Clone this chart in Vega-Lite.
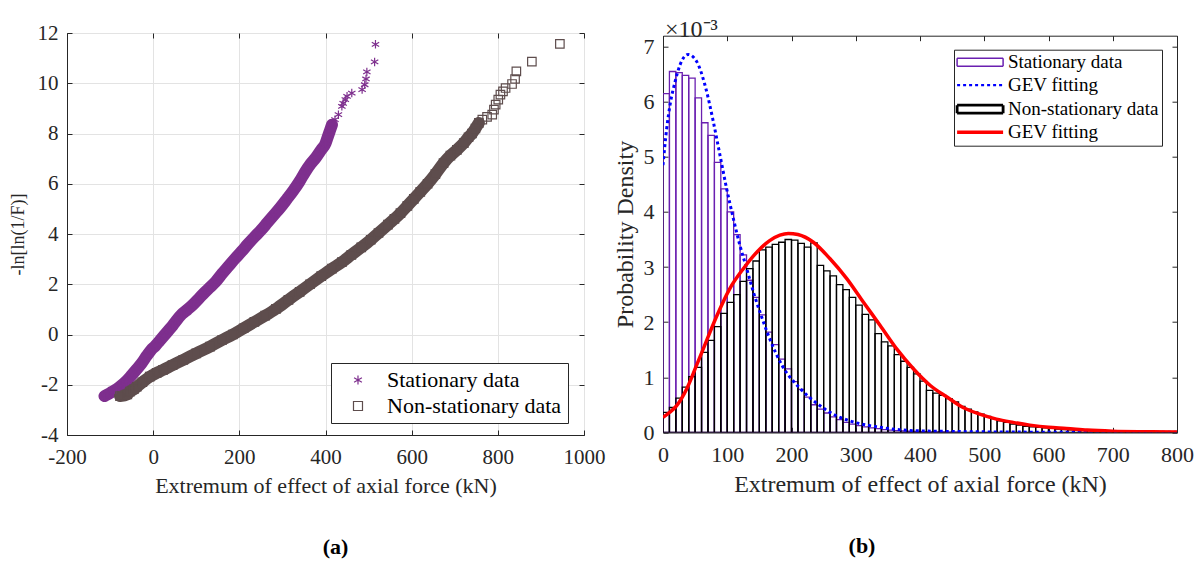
{
  "$schema": "https://vega.github.io/schema/vega-lite/v6.json",
  "background": "white",
  "padding": {"left": 8, "top": 17, "right": 5, "bottom": 5},
  "config": {
    "font": "Liberation Serif",
    "view": {"stroke": "#262626", "strokeWidth": 1},
    "axis": {
      "labelFont": "Liberation Serif", "titleFont": "Liberation Serif",
      "labelFontSize": 21, "titleFontSize": 22, "titleFontWeight": "normal",
      "labelColor": "#262626", "titleColor": "#262626",
      "domainColor": "#262626", "tickColor": "#262626", "domainWidth": 1, "tickWidth": 1,
      "tickSize": -5, "labelFlush": false, "labelOverlap": false
    },
    "legend": {
      "labelFont": "Liberation Serif", "labelColor": "#000000", "labelLimit": 400,
      "strokeColor": "#262626", "fillColor": "#ffffff"
    }
  },
  "datasets": {
    "gumbel": [
      {"series": "Stationary data", "x": -113, "y": -2.45},
      {"series": "Stationary data", "x": -105, "y": -2.38},
      {"series": "Stationary data", "x": -95, "y": -2.28},
      {"series": "Stationary data", "x": -85, "y": -2.18},
      {"series": "Stationary data", "x": -75, "y": -2.05},
      {"series": "Stationary data", "x": -62, "y": -1.85},
      {"series": "Stationary data", "x": -50, "y": -1.62},
      {"series": "Stationary data", "x": -38, "y": -1.38},
      {"series": "Stationary data", "x": -27, "y": -1.15},
      {"series": "Stationary data", "x": -15, "y": -0.85},
      {"series": "Stationary data", "x": -5, "y": -0.62},
      {"series": "Stationary data", "x": 5, "y": -0.45},
      {"series": "Stationary data", "x": 15, "y": -0.25},
      {"series": "Stationary data", "x": 25, "y": -0.05},
      {"series": "Stationary data", "x": 35, "y": 0.15},
      {"series": "Stationary data", "x": 45, "y": 0.35},
      {"series": "Stationary data", "x": 55, "y": 0.58},
      {"series": "Stationary data", "x": 66, "y": 0.8},
      {"series": "Stationary data", "x": 80, "y": 1.0},
      {"series": "Stationary data", "x": 93, "y": 1.2},
      {"series": "Stationary data", "x": 107, "y": 1.45},
      {"series": "Stationary data", "x": 120, "y": 1.68},
      {"series": "Stationary data", "x": 132, "y": 1.88},
      {"series": "Stationary data", "x": 145, "y": 2.1},
      {"series": "Stationary data", "x": 160, "y": 2.42},
      {"series": "Stationary data", "x": 175, "y": 2.72},
      {"series": "Stationary data", "x": 190, "y": 3.02},
      {"series": "Stationary data", "x": 205, "y": 3.3},
      {"series": "Stationary data", "x": 220, "y": 3.6},
      {"series": "Stationary data", "x": 235, "y": 3.88},
      {"series": "Stationary data", "x": 250, "y": 4.15},
      {"series": "Stationary data", "x": 265, "y": 4.45},
      {"series": "Stationary data", "x": 280, "y": 4.75},
      {"series": "Stationary data", "x": 295, "y": 5.05},
      {"series": "Stationary data", "x": 310, "y": 5.38},
      {"series": "Stationary data", "x": 325, "y": 5.72},
      {"series": "Stationary data", "x": 340, "y": 6.1},
      {"series": "Stationary data", "x": 352, "y": 6.45},
      {"series": "Stationary data", "x": 365, "y": 6.78},
      {"series": "Stationary data", "x": 378, "y": 7.05},
      {"series": "Stationary data", "x": 390, "y": 7.35},
      {"series": "Stationary data", "x": 400, "y": 7.6},
      {"series": "Stationary data", "x": 405, "y": 7.85},
      {"series": "Stationary data", "x": 410, "y": 8.1},
      {"series": "Stationary data", "x": 415, "y": 8.35},
      {"series": "Stationary data", "x": 422, "y": 8.55},
      {"series": "Stationary data", "x": 430, "y": 8.75},
      {"series": "Stationary data", "x": 438, "y": 9.08},
      {"series": "Stationary data", "x": 441, "y": 9.2},
      {"series": "Stationary data", "x": 446, "y": 9.35},
      {"series": "Stationary data", "x": 450, "y": 9.48},
      {"series": "Stationary data", "x": 461, "y": 9.61},
      {"series": "Stationary data", "x": 485, "y": 9.75},
      {"series": "Stationary data", "x": 491, "y": 9.94},
      {"series": "Stationary data", "x": 494, "y": 10.17},
      {"series": "Stationary data", "x": 496, "y": 10.45},
      {"series": "Stationary data", "x": 514, "y": 10.85},
      {"series": "Stationary data", "x": 516, "y": 11.55},
      {"series": "Non-stationary data", "x": -77, "y": -2.45},
      {"series": "Non-stationary data", "x": -60, "y": -2.38},
      {"series": "Non-stationary data", "x": -54, "y": -2.27},
      {"series": "Non-stationary data", "x": -45, "y": -2.18},
      {"series": "Non-stationary data", "x": -38, "y": -2.08},
      {"series": "Non-stationary data", "x": -25, "y": -1.9},
      {"series": "Non-stationary data", "x": -8, "y": -1.68},
      {"series": "Non-stationary data", "x": 8, "y": -1.53},
      {"series": "Non-stationary data", "x": 23, "y": -1.41},
      {"series": "Non-stationary data", "x": 45, "y": -1.22},
      {"series": "Non-stationary data", "x": 70, "y": -1.01},
      {"series": "Non-stationary data", "x": 100, "y": -0.75},
      {"series": "Non-stationary data", "x": 132, "y": -0.48},
      {"series": "Non-stationary data", "x": 160, "y": -0.22},
      {"series": "Non-stationary data", "x": 185, "y": 0.0},
      {"series": "Non-stationary data", "x": 210, "y": 0.25},
      {"series": "Non-stationary data", "x": 235, "y": 0.5},
      {"series": "Non-stationary data", "x": 260, "y": 0.75},
      {"series": "Non-stationary data", "x": 285, "y": 1.02},
      {"series": "Non-stationary data", "x": 314, "y": 1.38},
      {"series": "Non-stationary data", "x": 340, "y": 1.7},
      {"series": "Non-stationary data", "x": 364, "y": 2.0},
      {"series": "Non-stationary data", "x": 390, "y": 2.32},
      {"series": "Non-stationary data", "x": 415, "y": 2.62},
      {"series": "Non-stationary data", "x": 438, "y": 2.88},
      {"series": "Non-stationary data", "x": 460, "y": 3.17},
      {"series": "Non-stationary data", "x": 483, "y": 3.47},
      {"series": "Non-stationary data", "x": 505, "y": 3.77},
      {"series": "Non-stationary data", "x": 523, "y": 4.04},
      {"series": "Non-stationary data", "x": 545, "y": 4.37},
      {"series": "Non-stationary data", "x": 560, "y": 4.6},
      {"series": "Non-stationary data", "x": 574, "y": 4.83},
      {"series": "Non-stationary data", "x": 590, "y": 5.12},
      {"series": "Non-stationary data", "x": 605, "y": 5.4},
      {"series": "Non-stationary data", "x": 620, "y": 5.68},
      {"series": "Non-stationary data", "x": 637, "y": 6.0},
      {"series": "Non-stationary data", "x": 655, "y": 6.38},
      {"series": "Non-stationary data", "x": 674, "y": 6.82},
      {"series": "Non-stationary data", "x": 690, "y": 7.12},
      {"series": "Non-stationary data", "x": 705, "y": 7.35},
      {"series": "Non-stationary data", "x": 721, "y": 7.62},
      {"series": "Non-stationary data", "x": 732, "y": 7.85},
      {"series": "Non-stationary data", "x": 740, "y": 8.0},
      {"series": "Non-stationary data", "x": 748, "y": 8.2},
      {"series": "Non-stationary data", "x": 756, "y": 8.42},
      {"series": "Non-stationary data", "x": 764, "y": 8.55},
      {"series": "Non-stationary data", "x": 775, "y": 8.66},
      {"series": "Non-stationary data", "x": 787, "y": 8.75},
      {"series": "Non-stationary data", "x": 791, "y": 8.95},
      {"series": "Non-stationary data", "x": 795, "y": 9.15},
      {"series": "Non-stationary data", "x": 801, "y": 9.35},
      {"series": "Non-stationary data", "x": 806, "y": 9.55},
      {"series": "Non-stationary data", "x": 812, "y": 9.68},
      {"series": "Non-stationary data", "x": 818, "y": 9.81},
      {"series": "Non-stationary data", "x": 833, "y": 9.97},
      {"series": "Non-stationary data", "x": 840, "y": 10.17},
      {"series": "Non-stationary data", "x": 843, "y": 10.47},
      {"series": "Non-stationary data", "x": 879, "y": 10.86},
      {"series": "Non-stationary data", "x": 944, "y": 11.57}
    ],
    "hist": [
      {"series": "Stationary data", "bin_start": 0, "bin_end": 10, "density": 0.00615},
      {"series": "Stationary data", "bin_start": 10, "bin_end": 20, "density": 0.00655},
      {"series": "Stationary data", "bin_start": 20, "bin_end": 30, "density": 0.00653},
      {"series": "Stationary data", "bin_start": 30, "bin_end": 40, "density": 0.00648},
      {"series": "Stationary data", "bin_start": 40, "bin_end": 50, "density": 0.00643},
      {"series": "Stationary data", "bin_start": 50, "bin_end": 60, "density": 0.00607},
      {"series": "Stationary data", "bin_start": 60, "bin_end": 70, "density": 0.00562},
      {"series": "Stationary data", "bin_start": 70, "bin_end": 80, "density": 0.00539},
      {"series": "Stationary data", "bin_start": 80, "bin_end": 90, "density": 0.0049},
      {"series": "Stationary data", "bin_start": 90, "bin_end": 100, "density": 0.00442},
      {"series": "Stationary data", "bin_start": 100, "bin_end": 110, "density": 0.004},
      {"series": "Stationary data", "bin_start": 110, "bin_end": 120, "density": 0.00359},
      {"series": "Stationary data", "bin_start": 120, "bin_end": 130, "density": 0.00322},
      {"series": "Stationary data", "bin_start": 130, "bin_end": 140, "density": 0.00276},
      {"series": "Stationary data", "bin_start": 140, "bin_end": 150, "density": 0.00245},
      {"series": "Stationary data", "bin_start": 150, "bin_end": 160, "density": 0.00213},
      {"series": "Stationary data", "bin_start": 160, "bin_end": 170, "density": 0.00182},
      {"series": "Stationary data", "bin_start": 170, "bin_end": 180, "density": 0.00159},
      {"series": "Stationary data", "bin_start": 180, "bin_end": 190, "density": 0.00133},
      {"series": "Stationary data", "bin_start": 190, "bin_end": 200, "density": 0.00115},
      {"series": "Stationary data", "bin_start": 200, "bin_end": 210, "density": 0.00092},
      {"series": "Stationary data", "bin_start": 210, "bin_end": 220, "density": 0.00078},
      {"series": "Stationary data", "bin_start": 220, "bin_end": 230, "density": 0.00064},
      {"series": "Stationary data", "bin_start": 230, "bin_end": 240, "density": 0.0005},
      {"series": "Stationary data", "bin_start": 240, "bin_end": 250, "density": 0.00042},
      {"series": "Stationary data", "bin_start": 250, "bin_end": 260, "density": 0.00035},
      {"series": "Stationary data", "bin_start": 260, "bin_end": 270, "density": 0.00028},
      {"series": "Stationary data", "bin_start": 270, "bin_end": 280, "density": 0.00023},
      {"series": "Stationary data", "bin_start": 280, "bin_end": 290, "density": 0.00018},
      {"series": "Stationary data", "bin_start": 290, "bin_end": 300, "density": 0.00015},
      {"series": "Stationary data", "bin_start": 300, "bin_end": 310, "density": 0.00012},
      {"series": "Stationary data", "bin_start": 310, "bin_end": 320, "density": 0.0001},
      {"series": "Stationary data", "bin_start": 320, "bin_end": 330, "density": 0.00008},
      {"series": "Stationary data", "bin_start": 330, "bin_end": 340, "density": 0.000065},
      {"series": "Stationary data", "bin_start": 340, "bin_end": 350, "density": 0.00005},
      {"series": "Stationary data", "bin_start": 350, "bin_end": 360, "density": 0.00004},
      {"series": "Stationary data", "bin_start": 360, "bin_end": 370, "density": 0.00003},
      {"series": "Stationary data", "bin_start": 370, "bin_end": 380, "density": 0.000025},
      {"series": "Stationary data", "bin_start": 380, "bin_end": 390, "density": 0.00002},
      {"series": "Stationary data", "bin_start": 390, "bin_end": 400, "density": 0.000015},
      {"series": "Stationary data", "bin_start": 400, "bin_end": 410, "density": 0.00001},
      {"series": "Stationary data", "bin_start": 410, "bin_end": 420, "density": 0.000008},
      {"series": "Stationary data", "bin_start": 420, "bin_end": 430, "density": 0.000006},
      {"series": "Stationary data", "bin_start": 430, "bin_end": 440, "density": 0.000005},
      {"series": "Stationary data", "bin_start": 440, "bin_end": 450, "density": 0.000004},
      {"series": "Stationary data", "bin_start": 450, "bin_end": 460, "density": 0.000003},
      {"series": "Non-stationary data", "bin_start": 0, "bin_end": 10, "density": 0.00036},
      {"series": "Non-stationary data", "bin_start": 10, "bin_end": 20, "density": 0.00045},
      {"series": "Non-stationary data", "bin_start": 20, "bin_end": 30, "density": 0.00062},
      {"series": "Non-stationary data", "bin_start": 30, "bin_end": 40, "density": 0.00082},
      {"series": "Non-stationary data", "bin_start": 40, "bin_end": 50, "density": 0.00101},
      {"series": "Non-stationary data", "bin_start": 50, "bin_end": 60, "density": 0.00118},
      {"series": "Non-stationary data", "bin_start": 60, "bin_end": 70, "density": 0.00145},
      {"series": "Non-stationary data", "bin_start": 70, "bin_end": 80, "density": 0.00167},
      {"series": "Non-stationary data", "bin_start": 80, "bin_end": 90, "density": 0.00192},
      {"series": "Non-stationary data", "bin_start": 90, "bin_end": 100, "density": 0.00216},
      {"series": "Non-stationary data", "bin_start": 100, "bin_end": 110, "density": 0.00236},
      {"series": "Non-stationary data", "bin_start": 110, "bin_end": 120, "density": 0.0025},
      {"series": "Non-stationary data", "bin_start": 120, "bin_end": 130, "density": 0.00274},
      {"series": "Non-stationary data", "bin_start": 130, "bin_end": 140, "density": 0.00297},
      {"series": "Non-stationary data", "bin_start": 140, "bin_end": 150, "density": 0.00311},
      {"series": "Non-stationary data", "bin_start": 150, "bin_end": 160, "density": 0.00331},
      {"series": "Non-stationary data", "bin_start": 160, "bin_end": 170, "density": 0.00336},
      {"series": "Non-stationary data", "bin_start": 170, "bin_end": 180, "density": 0.00341},
      {"series": "Non-stationary data", "bin_start": 180, "bin_end": 190, "density": 0.00345},
      {"series": "Non-stationary data", "bin_start": 190, "bin_end": 200, "density": 0.0035},
      {"series": "Non-stationary data", "bin_start": 200, "bin_end": 210, "density": 0.00349},
      {"series": "Non-stationary data", "bin_start": 210, "bin_end": 220, "density": 0.00343},
      {"series": "Non-stationary data", "bin_start": 220, "bin_end": 230, "density": 0.00336},
      {"series": "Non-stationary data", "bin_start": 230, "bin_end": 240, "density": 0.00344},
      {"series": "Non-stationary data", "bin_start": 240, "bin_end": 250, "density": 0.00303},
      {"series": "Non-stationary data", "bin_start": 250, "bin_end": 260, "density": 0.00293},
      {"series": "Non-stationary data", "bin_start": 260, "bin_end": 270, "density": 0.00284},
      {"series": "Non-stationary data", "bin_start": 270, "bin_end": 280, "density": 0.00268},
      {"series": "Non-stationary data", "bin_start": 280, "bin_end": 290, "density": 0.00259},
      {"series": "Non-stationary data", "bin_start": 290, "bin_end": 300, "density": 0.00245},
      {"series": "Non-stationary data", "bin_start": 300, "bin_end": 310, "density": 0.00231},
      {"series": "Non-stationary data", "bin_start": 310, "bin_end": 320, "density": 0.00214},
      {"series": "Non-stationary data", "bin_start": 320, "bin_end": 330, "density": 0.00204},
      {"series": "Non-stationary data", "bin_start": 330, "bin_end": 340, "density": 0.00179},
      {"series": "Non-stationary data", "bin_start": 340, "bin_end": 350, "density": 0.00164},
      {"series": "Non-stationary data", "bin_start": 350, "bin_end": 360, "density": 0.00157},
      {"series": "Non-stationary data", "bin_start": 360, "bin_end": 370, "density": 0.00141},
      {"series": "Non-stationary data", "bin_start": 370, "bin_end": 380, "density": 0.00129},
      {"series": "Non-stationary data", "bin_start": 380, "bin_end": 390, "density": 0.00118},
      {"series": "Non-stationary data", "bin_start": 390, "bin_end": 400, "density": 0.00106},
      {"series": "Non-stationary data", "bin_start": 400, "bin_end": 410, "density": 0.00093},
      {"series": "Non-stationary data", "bin_start": 410, "bin_end": 420, "density": 0.00076},
      {"series": "Non-stationary data", "bin_start": 420, "bin_end": 430, "density": 0.00071},
      {"series": "Non-stationary data", "bin_start": 430, "bin_end": 440, "density": 0.00067},
      {"series": "Non-stationary data", "bin_start": 440, "bin_end": 450, "density": 0.00061},
      {"series": "Non-stationary data", "bin_start": 450, "bin_end": 460, "density": 0.00055},
      {"series": "Non-stationary data", "bin_start": 460, "bin_end": 470, "density": 0.00047},
      {"series": "Non-stationary data", "bin_start": 470, "bin_end": 480, "density": 0.00042},
      {"series": "Non-stationary data", "bin_start": 480, "bin_end": 490, "density": 0.00037},
      {"series": "Non-stationary data", "bin_start": 490, "bin_end": 500, "density": 0.00033},
      {"series": "Non-stationary data", "bin_start": 500, "bin_end": 510, "density": 0.00029},
      {"series": "Non-stationary data", "bin_start": 510, "bin_end": 520, "density": 0.00025},
      {"series": "Non-stationary data", "bin_start": 520, "bin_end": 530, "density": 0.00021},
      {"series": "Non-stationary data", "bin_start": 530, "bin_end": 540, "density": 0.00018},
      {"series": "Non-stationary data", "bin_start": 540, "bin_end": 550, "density": 0.00015},
      {"series": "Non-stationary data", "bin_start": 550, "bin_end": 560, "density": 0.00013},
      {"series": "Non-stationary data", "bin_start": 560, "bin_end": 570, "density": 0.00011},
      {"series": "Non-stationary data", "bin_start": 570, "bin_end": 580, "density": 0.0001},
      {"series": "Non-stationary data", "bin_start": 580, "bin_end": 590, "density": 0.00009},
      {"series": "Non-stationary data", "bin_start": 590, "bin_end": 600, "density": 0.00008},
      {"series": "Non-stationary data", "bin_start": 600, "bin_end": 610, "density": 0.00007},
      {"series": "Non-stationary data", "bin_start": 610, "bin_end": 620, "density": 0.00006},
      {"series": "Non-stationary data", "bin_start": 620, "bin_end": 630, "density": 0.00005},
      {"series": "Non-stationary data", "bin_start": 630, "bin_end": 640, "density": 0.000045},
      {"series": "Non-stationary data", "bin_start": 640, "bin_end": 650, "density": 0.00004},
      {"series": "Non-stationary data", "bin_start": 650, "bin_end": 660, "density": 0.000035},
      {"series": "Non-stationary data", "bin_start": 660, "bin_end": 670, "density": 0.00003},
      {"series": "Non-stationary data", "bin_start": 670, "bin_end": 680, "density": 0.000025},
      {"series": "Non-stationary data", "bin_start": 680, "bin_end": 690, "density": 0.00002},
      {"series": "Non-stationary data", "bin_start": 690, "bin_end": 700, "density": 0.000018},
      {"series": "Non-stationary data", "bin_start": 700, "bin_end": 710, "density": 0.000015},
      {"series": "Non-stationary data", "bin_start": 710, "bin_end": 720, "density": 0.000012},
      {"series": "Non-stationary data", "bin_start": 720, "bin_end": 730, "density": 0.00001},
      {"series": "Non-stationary data", "bin_start": 730, "bin_end": 740, "density": 0.000008},
      {"series": "Non-stationary data", "bin_start": 740, "bin_end": 750, "density": 0.000006},
      {"series": "Non-stationary data", "bin_start": 750, "bin_end": 760, "density": 0.000005},
      {"series": "Non-stationary data", "bin_start": 760, "bin_end": 770, "density": 0.000004},
      {"series": "Non-stationary data", "bin_start": 770, "bin_end": 780, "density": 0.000003},
      {"series": "Non-stationary data", "bin_start": 780, "bin_end": 790, "density": 0.000002},
      {"series": "Non-stationary data", "bin_start": 790, "bin_end": 800, "density": 0.000002}
    ],
    "gev": [
      {"series": "GEV fitting (stationary)", "x": 0, "density": 0.00485},
      {"series": "GEV fitting (stationary)", "x": 5.7, "density": 0.00551},
      {"series": "GEV fitting (stationary)", "x": 10.9, "density": 0.00594},
      {"series": "GEV fitting (stationary)", "x": 18.7, "density": 0.00636},
      {"series": "GEV fitting (stationary)", "x": 26.5, "density": 0.00667},
      {"series": "GEV fitting (stationary)", "x": 39, "density": 0.00686},
      {"series": "GEV fitting (stationary)", "x": 52.4, "density": 0.00673},
      {"series": "GEV fitting (stationary)", "x": 65.4, "density": 0.0063},
      {"series": "GEV fitting (stationary)", "x": 78.3, "density": 0.00564},
      {"series": "GEV fitting (stationary)", "x": 88.7, "density": 0.00503},
      {"series": "GEV fitting (stationary)", "x": 99.1, "density": 0.00442},
      {"series": "GEV fitting (stationary)", "x": 109.5, "density": 0.00388},
      {"series": "GEV fitting (stationary)", "x": 119.8, "density": 0.00339},
      {"series": "GEV fitting (stationary)", "x": 130.3, "density": 0.00297},
      {"series": "GEV fitting (stationary)", "x": 140.6, "density": 0.00255},
      {"series": "GEV fitting (stationary)", "x": 151, "density": 0.00218},
      {"series": "GEV fitting (stationary)", "x": 166, "density": 0.0017},
      {"series": "GEV fitting (stationary)", "x": 185, "density": 0.00122},
      {"series": "GEV fitting (stationary)", "x": 213, "density": 0.0008},
      {"series": "GEV fitting (stationary)", "x": 239, "density": 0.00053},
      {"series": "GEV fitting (stationary)", "x": 270, "density": 0.0003},
      {"series": "GEV fitting (stationary)", "x": 290, "density": 0.00021},
      {"series": "GEV fitting (stationary)", "x": 338, "density": 0.00009},
      {"series": "GEV fitting (stationary)", "x": 389, "density": 0.00003},
      {"series": "GEV fitting (stationary)", "x": 450, "density": 0.000015},
      {"series": "GEV fitting (stationary)", "x": 500, "density": 0.000008},
      {"series": "GEV fitting (stationary)", "x": 600, "density": 0.000002},
      {"series": "GEV fitting (stationary)", "x": 700, "density": 0.000001},
      {"series": "GEV fitting (stationary)", "x": 800, "density": 0.0000005},
      {"series": "GEV fitting (non-stationary)", "x": 0, "density": 0.00027},
      {"series": "GEV fitting (non-stationary)", "x": 10, "density": 0.00036},
      {"series": "GEV fitting (non-stationary)", "x": 21, "density": 0.00048},
      {"series": "GEV fitting (non-stationary)", "x": 37, "density": 0.00079},
      {"series": "GEV fitting (non-stationary)", "x": 52, "density": 0.00121},
      {"series": "GEV fitting (non-stationary)", "x": 68, "density": 0.00167},
      {"series": "GEV fitting (non-stationary)", "x": 84, "density": 0.00212},
      {"series": "GEV fitting (non-stationary)", "x": 104, "density": 0.00261},
      {"series": "GEV fitting (non-stationary)", "x": 125, "density": 0.00297},
      {"series": "GEV fitting (non-stationary)", "x": 146, "density": 0.00327},
      {"series": "GEV fitting (non-stationary)", "x": 166, "density": 0.00348},
      {"series": "GEV fitting (non-stationary)", "x": 182, "density": 0.00358},
      {"series": "GEV fitting (non-stationary)", "x": 195, "density": 0.00361},
      {"series": "GEV fitting (non-stationary)", "x": 210, "density": 0.00359},
      {"series": "GEV fitting (non-stationary)", "x": 234, "density": 0.00345},
      {"series": "GEV fitting (non-stationary)", "x": 260, "density": 0.00315},
      {"series": "GEV fitting (non-stationary)", "x": 286, "density": 0.00279},
      {"series": "GEV fitting (non-stationary)", "x": 312, "density": 0.00236},
      {"series": "GEV fitting (non-stationary)", "x": 338, "density": 0.00194},
      {"series": "GEV fitting (non-stationary)", "x": 364, "density": 0.00151},
      {"series": "GEV fitting (non-stationary)", "x": 390, "density": 0.00115},
      {"series": "GEV fitting (non-stationary)", "x": 416, "density": 0.00085},
      {"series": "GEV fitting (non-stationary)", "x": 442, "density": 0.00064},
      {"series": "GEV fitting (non-stationary)", "x": 467, "density": 0.00045},
      {"series": "GEV fitting (non-stationary)", "x": 493, "density": 0.00033},
      {"series": "GEV fitting (non-stationary)", "x": 519, "density": 0.00024},
      {"series": "GEV fitting (non-stationary)", "x": 545, "density": 0.00018},
      {"series": "GEV fitting (non-stationary)", "x": 571, "density": 0.00013},
      {"series": "GEV fitting (non-stationary)", "x": 600, "density": 0.00009},
      {"series": "GEV fitting (non-stationary)", "x": 628, "density": 0.00007},
      {"series": "GEV fitting (non-stationary)", "x": 660, "density": 0.00004},
      {"series": "GEV fitting (non-stationary)", "x": 700, "density": 0.00002},
      {"series": "GEV fitting (non-stationary)", "x": 750, "density": 0.00001},
      {"series": "GEV fitting (non-stationary)", "x": 800, "density": 0.000005}
    ]
  },
  "spacing": 79,
  "bounds": "flush",
  "center": true,
  "resolve": {
    "scale": {"color": "independent", "shape": "independent", "strokeDash": "independent", "strokeWidth": "independent"},
    "legend": {"color": "independent", "shape": "independent", "strokeDash": "independent", "strokeWidth": "independent"}
  },
  "hconcat": [
    {
      "width": 517,
      "height": 402,
      "data": {"name": "gumbel"},
      "title": {"text": "(a)", "orient": "bottom", "anchor": "middle", "dx": 10, "offset": 40, "fontSize": 22, "fontWeight": "bold", "font": "Liberation Serif", "color": "#000000"},
      "layer": [
        {
          "layer": [
            {
              "transform": [{"filter": "datum.series == 'Stationary data' && datum.y <= 8.45"}],
              "mark": {"type": "line", "color": "#7E2F8E", "strokeWidth": 12, "strokeCap": "round", "strokeJoin": "round", "interpolate": "monotone"},
              "encoding": {
                "x": {"field": "x", "type": "quantitative", "scale": {"domain": [-200, 1000], "nice": false, "zero": false},
                  "axis": {"orient": "bottom", "values": [-200, 0, 200, 400, 600, 800, 1000], "labelExpr": "datum.value < 0 ? '-' + format(-datum.value, 'd') : format(datum.value, 'd')", "title": "Extremum of effect of axial force (kN)", "grid": true, "gridColor": "#E3E3E3", "labelPadding": 16.5, "titlePadding": 8}},
                "y": {"field": "y", "type": "quantitative", "scale": {"domain": [-4, 12], "nice": false, "zero": false},
                  "axis": {"orient": "left", "values": [-4, -2, 0, 2, 4, 6, 8, 10, 12], "labelExpr": "datum.value < 0 ? '-' + format(-datum.value, 'd') : format(datum.value, 'd')", "title": "-ln[ln(1/F)]", "titleFontSize": 18, "grid": true, "gridColor": "#E3E3E3", "labelPadding": 14, "titlePadding": 10}}
              }
            },
            {
              "transform": [{"filter": "datum.series == 'Non-stationary data' && datum.y <= 8.45"}],
              "mark": {"type": "line", "color": "#5E4D4D", "strokeWidth": 12, "strokeCap": "round", "strokeJoin": "round", "interpolate": "monotone"},
              "encoding": {
                "x": {"field": "x", "type": "quantitative"},
                "y": {"field": "y", "type": "quantitative"}
              }
            },
            {
              "transform": [{"filter": "datum.series == 'Stationary data'"}],
              "mark": {"type": "point", "shape": "M0,-1L0,1M-0.87,-0.5L0.87,0.5M-0.87,0.5L0.87,-0.5", "filled": false, "color": "#7E2F8E", "strokeWidth": 1.2, "size": 72, "opacity": 1},
              "encoding": {
                "x": {"field": "x", "type": "quantitative"},
                "y": {"field": "y", "type": "quantitative"}
              }
            },
            {
              "transform": [{"filter": "false"}],
              "mark": {"type": "point", "filled": false, "strokeWidth": 1.2, "opacity": 1},
              "encoding": {
                "x": {"field": "x", "type": "quantitative"},
                "y": {"field": "y", "type": "quantitative"},
                "color": {"field": "series", "type": "nominal", "scale": {"domain": ["Stationary data", "Non-stationary data"], "range": ["#7E2F8E", "#5E4D4D"]},
                  "legend": {"title": null, "orient": "none", "legendX": 264, "legendY": 330, "padding": 6, "labelFontSize": 22, "labelOffset": 28, "rowPadding": 4, "symbolSize": 81, "symbolStrokeWidth": 1.2}},
                "shape": {"field": "series", "type": "nominal", "scale": {"domain": ["Stationary data", "Non-stationary data"], "range": ["M2.22,-1L2.22,1M1.35,-0.5L3.09,0.5M1.35,0.5L3.09,-0.5", "M1.22,-1H3.22V1H1.22Z"]},
                  "legend": {"title": null, "orient": "none", "legendX": 264, "legendY": 330, "padding": 6, "labelFontSize": 22, "labelOffset": 28, "rowPadding": 4, "symbolSize": 81, "symbolStrokeWidth": 1.2}}
              }
            }
          ]
        },
        {
          "transform": [{"filter": "datum.series == 'Non-stationary data'"}],
          "mark": {"type": "point", "shape": "square", "filled": false, "color": "#5E4D4D", "strokeWidth": 1.2, "size": 72, "opacity": 1},
          "encoding": {
            "x": {"field": "x", "type": "quantitative", "scale": {"domain": [-200, 1000], "nice": false, "zero": false},
              "axis": {"orient": "top", "values": [-200, 0, 200, 400, 600, 800, 1000], "labels": false, "title": null, "grid": false, "domain": false}},
            "y": {"field": "y", "type": "quantitative", "scale": {"domain": [-4, 12], "nice": false, "zero": false},
              "axis": {"orient": "right", "values": [-4, -2, 0, 2, 4, 6, 8, 10, 12], "labels": false, "title": null, "grid": false, "domain": false}}
          }
        }
      ],
      "resolve": {"axis": {"x": "independent", "y": "independent"}}
    },
    {
      "width": 514,
      "height": 396.6,
      "title": {"text": "(b)", "orient": "bottom", "anchor": "middle", "dx": -58, "offset": 40, "fontSize": 22, "fontWeight": "bold", "font": "Liberation Serif", "color": "#000000"},
      "layer": [
        {
          "layer": [
            {
              "data": {"name": "hist"},
              "transform": [{"filter": "datum.series == 'Stationary data'"}],
              "mark": {"type": "bar", "filled": false, "color": "#6A1FB0", "strokeWidth": 1.3, "clip": true},
              "encoding": {
                "x": {"field": "bin_start", "type": "quantitative", "scale": {"domain": [0, 800], "nice": false, "zero": false},
                  "axis": {"orient": "bottom", "values": [0, 100, 200, 300, 400, 500, 600, 700, 800], "labelFontSize": 22, "title": "Extremum of effect of axial force (kN)", "titleFontSize": 24, "grid": false, "labelPadding": 17, "titlePadding": 7}},
                "x2": {"field": "bin_end"},
                "y": {"field": "density", "type": "quantitative", "stack": null, "scale": {"domain": [0, 0.0072], "nice": false, "zero": false},
                  "axis": {"orient": "left", "values": [0, 0.001, 0.002, 0.003, 0.004, 0.005, 0.006, 0.007], "labelExpr": "format(datum.value * 1000, 'd')", "labelFontSize": 22, "title": "Probability Density", "titleFontSize": 24, "grid": false, "labelPadding": 14, "titlePadding": 6}},
                "y2": {"datum": 0}
              }
            },
            {
              "data": {"name": "hist"},
              "transform": [{"filter": "datum.series == 'Non-stationary data'"}],
              "mark": {"type": "bar", "filled": false, "color": "#000000", "strokeWidth": 1.3, "clip": true},
              "encoding": {
                "x": {"field": "bin_start", "type": "quantitative"},
                "x2": {"field": "bin_end"},
                "y": {"field": "density", "type": "quantitative", "stack": null},
                "y2": {"datum": 0}
              }
            },
            {
              "data": {"name": "gev"},
              "transform": [{"filter": "datum.series == 'GEV fitting (stationary)'"}],
              "mark": {"type": "line", "color": "#0000FF", "strokeWidth": 3, "strokeDash": [3, 3], "interpolate": "monotone", "clip": true},
              "encoding": {
                "x": {"field": "x", "type": "quantitative"},
                "y": {"field": "density", "type": "quantitative"}
              }
            },
            {
              "data": {"values": [{}]},
              "mark": {"type": "text", "text": "×10⁻³", "align": "left", "baseline": "alphabetic", "dx": 2, "dy": 1, "fontSize": 24, "font": "Liberation Serif", "color": "#262626"},
              "encoding": {
                "x": {"datum": 0, "type": "quantitative"},
                "y": {"datum": 0.0072, "type": "quantitative"}
              }
            },
            {
              "data": {"name": "gev"},
              "transform": [{"filter": "false"}],
              "mark": {"type": "point", "filled": false, "opacity": 1},
              "encoding": {
                "x": {"field": "x", "type": "quantitative"},
                "y": {"field": "density", "type": "quantitative"},
                "color": {"field": "series", "type": "nominal",
                  "scale": {"domain": ["Stationary data", "GEV fitting (stationary)", "Non-stationary data", "GEV fitting (non-stationary)"], "range": ["#6A1FB0", "#0000FF", "#000000", "#FF0000"]},
                  "legend": {"title": null, "orient": "none", "legendX": 291, "legendY": 14, "padding": 3, "labelFontSize": 19, "labelOffset": 32, "rowPadding": 3, "symbolSize": 64,
                    "labelExpr": "datum.label == 'GEV fitting (stationary)' || datum.label == 'GEV fitting (non-stationary)' ? 'GEV fitting' : datum.label"}},
                "shape": {"field": "series", "type": "nominal",
                  "scale": {"domain": ["Stationary data", "GEV fitting (stationary)", "Non-stationary data", "GEV fitting (non-stationary)"], "range": ["M-2.35,-1H9.15V1H-2.35Z", "M-2.35,0H9.15", "M-2.35,-1H9.15V1H-2.35Z", "M-2.35,0H9.15"]},
                  "legend": {"title": null, "orient": "none", "legendX": 291, "legendY": 14, "padding": 3, "labelFontSize": 19, "labelOffset": 32, "rowPadding": 3, "symbolSize": 64,
                    "labelExpr": "datum.label == 'GEV fitting (stationary)' || datum.label == 'GEV fitting (non-stationary)' ? 'GEV fitting' : datum.label"}},
                "strokeDash": {"field": "series", "type": "nominal",
                  "scale": {"domain": ["Stationary data", "GEV fitting (stationary)", "Non-stationary data", "GEV fitting (non-stationary)"], "range": [[1, 0], [3, 3], [1, 0], [1, 0]]},
                  "legend": {"title": null, "orient": "none", "legendX": 291, "legendY": 14, "padding": 3, "labelFontSize": 19, "labelOffset": 32, "rowPadding": 3, "symbolSize": 64,
                    "labelExpr": "datum.label == 'GEV fitting (stationary)' || datum.label == 'GEV fitting (non-stationary)' ? 'GEV fitting' : datum.label"}},
                "strokeWidth": {"field": "series", "type": "nominal",
                  "scale": {"domain": ["Stationary data", "GEV fitting (stationary)", "Non-stationary data", "GEV fitting (non-stationary)"], "range": [1.5, 3.5, 1.5, 3.5]},
                  "legend": {"title": null, "orient": "none", "legendX": 291, "legendY": 14, "padding": 3, "labelFontSize": 19, "labelOffset": 32, "rowPadding": 3, "symbolSize": 64,
                    "labelExpr": "datum.label == 'GEV fitting (stationary)' || datum.label == 'GEV fitting (non-stationary)' ? 'GEV fitting' : datum.label"}}
              }
            }
          ]
        },
        {
          "data": {"name": "gev"},
          "transform": [{"filter": "datum.series == 'GEV fitting (non-stationary)'"}],
          "mark": {"type": "line", "color": "#FF0000", "strokeWidth": 3.5, "interpolate": "monotone", "clip": true},
          "encoding": {
            "x": {"field": "x", "type": "quantitative", "scale": {"domain": [0, 800], "nice": false, "zero": false},
              "axis": {"orient": "top", "values": [0, 100, 200, 300, 400, 500, 600, 700, 800], "labels": false, "title": null, "grid": false, "domain": false}},
            "y": {"field": "density", "type": "quantitative", "scale": {"domain": [0, 0.0072], "nice": false, "zero": false},
              "axis": {"orient": "right", "values": [0, 0.001, 0.002, 0.003, 0.004, 0.005, 0.006, 0.007], "labels": false, "title": null, "grid": false, "domain": false}}
          }
        }
      ],
      "resolve": {"axis": {"x": "independent", "y": "independent"}}
    }
  ]
}
